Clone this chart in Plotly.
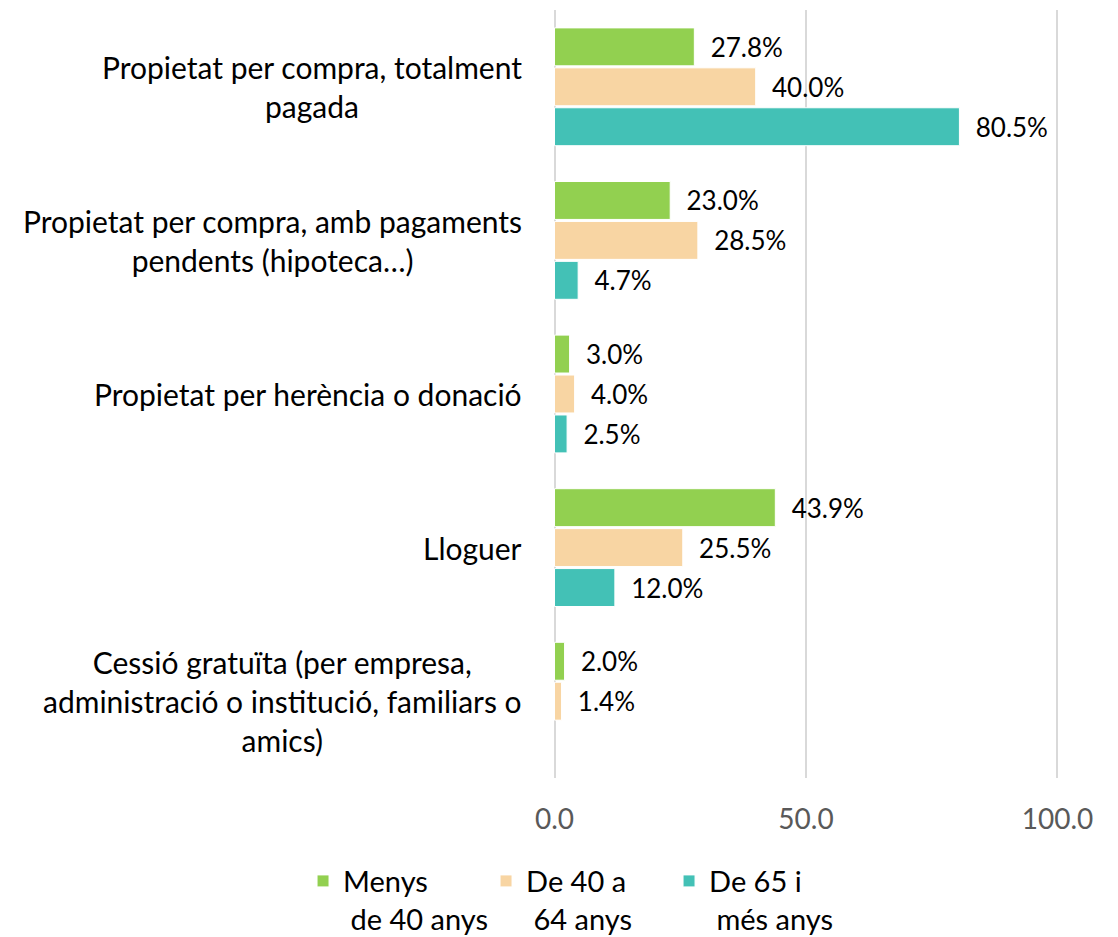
import plotly.graph_objects as go

categories = [
    "Propietat per compra, totalment<br>pagada",
    "Propietat per compra, amb pagaments<br>pendents (hipoteca…)",
    "Propietat per herència o donació",
    "Lloguer",
    "Cessió gratuïta (per empresa,<br>administració o institució, familiars o<br>amics)",
]
series_names = ["Menys<br> de 40 anys", "De 40 a<br> 64 anys", "De 65 i<br> més anys"]
menys_40 = [27.8, 23.0, 3.0, 43.9, 2.0]
de_40_64 = [40.0, 28.5, 4.0, 25.5, 1.4]
de_65 = [80.5, 4.7, 2.5, 12.0, None]
tick_vals = [0, 50, 100]
tick_text = ["0.0", "50.0", "100.0"]

colors = ["#92D050", "#F8D5A3", "#43C1B6"]
FONT = "Lato"

fig = go.Figure()
for name, vals, col in zip(series_names, [menys_40, de_40_64, de_65], colors):
    fig.add_trace(go.Bar(
        y=list(range(len(categories))), x=vals, name=name, orientation="h",
        marker=dict(color=col, line=dict(color="white", width=1)),
        text=[("\u00a0\u00a0" + f"{v:.1f}%") if v is not None else "" for v in vals],
        textposition="outside", cliponaxis=False,
        textfont=dict(family=FONT, size=26, color="black"),
    ))

for i, c in enumerate(categories):
    fig.add_annotation(
        x=0, xref="paper", y=i, yref="y", text=c, showarrow=False,
        xanchor="right", align="center", xshift=-29,
        font=dict(family=FONT, size=30, color="black"),
    )

fig.update_layout(
    width=1118, height=937,
    margin=dict(l=553, r=59, t=10, b=159, autoexpand=False),
    paper_bgcolor="white", plot_bgcolor="white",
    barmode="group", bargap=0.22, bargroupgap=0.05,
    showlegend=True,
    legend=dict(orientation="h", xref="paper", x=-0.494, xanchor="left",
                yref="paper", y=-0.101, yanchor="top", valign="top",
                font=dict(family=FONT, size=29, color="black"),
                itemwidth=30, tracegroupgap=0,
                entrywidth=138, entrywidthmode="pixels"),
)
fig.update_xaxes(range=[-0.3, 100.3], tickvals=tick_vals, ticktext=tick_text,
                 showgrid=True, gridcolor="#D9D9D9", gridwidth=2,
                 zeroline=True, zerolinecolor="#D9D9D9", zerolinewidth=2,
                 ticklabelstandoff=22,
                 tickfont=dict(family=FONT, size=28, color="#595959"))
fig.update_yaxes(autorange="reversed", showticklabels=False, showgrid=False,
                 zeroline=False)

fig.write_html("out.html", config={"displayModeBar": False},
               post_script="document.body.style.margin='0';document.body.style.padding='0';")
